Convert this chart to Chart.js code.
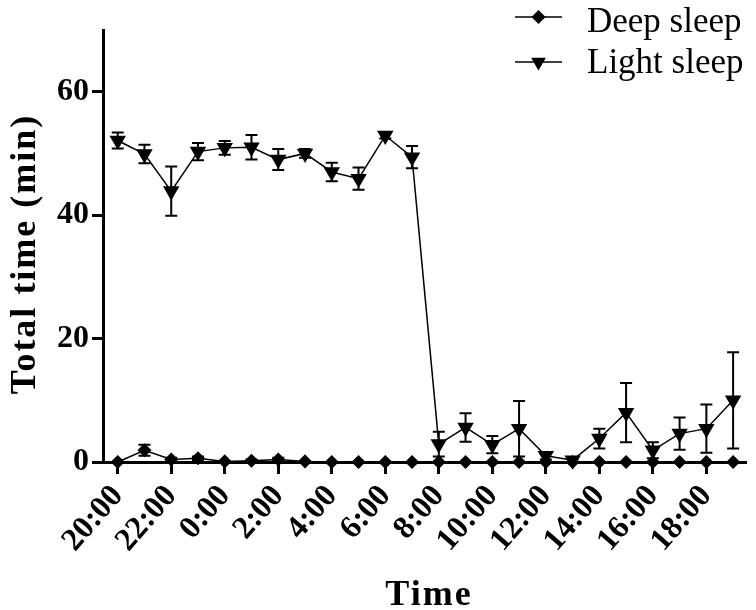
<!DOCTYPE html>
<html>
<head>
    <meta charset="UTF-8">
    <title>Sleep time</title>
    <script src="https://cdn.jsdelivr.net/npm/chart.js"></script>
    <style>
        html, body { margin: 0; padding: 0; background: #fff; }
        #wrap { width: 756px; height: 610px; }
    </style>
</head>
<body>
    <div id="wrap"><canvas id="myChart" width="756" height="610"></canvas></div>

    <script>
        // data
        const hours = ['20:00','21:00','22:00','23:00','0:00','1:00','2:00','3:00','4:00','5:00','6:00','7:00',
                       '8:00','9:00','10:00','11:00','12:00','13:00','14:00','15:00','16:00','17:00','18:00','19:00'];
        const deepSleep = [0, 1.9, 0.4, 0.6, 0.1, 0.2, 0.4, 0.1, 0, 0, 0, 0,
                           0, 0, 0, 0, 0, 0, 0, 0, 0, 0, 0, 0];
        const deepSleepErr = [0, 0.9, 0.3, 0.3, 0, 0.2, 0.3, 0, 0, 0, 0, 0,
                              0, 0, 0, 0, 0, 0, 0, 0, 0, 0, 0, 0];
        const lightSleep = [52.1, 49.9, 43.9, 50.3, 50.9, 51.0, 49.0, 50.0, 47.0, 45.9, 52.9, 49.4,
                            2.9, 5.6, 2.8, 5.4, 1.0, 0.3, 3.8, 8.0, 1.9, 4.6, 5.4, 10.0];
        const lightSleepErr = [1.3, 1.5, 4.0, 1.4, 1.1, 2.0, 1.7, 0.7, 1.5, 1.8, 0.5, 1.8,
                               2.0, 2.3, 1.4, 4.5, 0.6, 0.3, 1.6, 4.8, 1.3, 2.6, 3.9, 7.8];
        const yTicks = [0, 20, 40, 60];

        const serif = "'Liberation Serif', 'Times New Roman', serif";

        // error bars, drawn with the chart's own scales
        const errorBars = {
            id: 'errorBars',
            afterDatasetsDraw(chart) {
                const ctx = chart.ctx;
                const ys = chart.scales.y;
                chart.data.datasets.forEach((ds, di) => {
                    const meta = chart.getDatasetMeta(di);
                    ctx.save();
                    ctx.strokeStyle = '#000';
                    ctx.lineWidth = 2;
                    meta.data.forEach((pt, i) => {
                        const e = ds.errors[i];
                        if (!e) return;
                        const v = ds.data[i].y;
                        const top = ys.getPixelForValue(v + e);
                        const bot = ys.getPixelForValue(v - e);
                        ctx.beginPath();
                        ctx.moveTo(pt.x, top); ctx.lineTo(pt.x, bot);
                        ctx.moveTo(pt.x - 6, top); ctx.lineTo(pt.x + 6, top);
                        ctx.moveTo(pt.x - 6, bot); ctx.lineTo(pt.x + 6, bot);
                        ctx.stroke();
                    });
                    ctx.restore();
                });
            }
        };

        // legend (line + marker + label) and the two axis titles
        const extras = {
            id: 'extras',
            afterDraw(chart) {
                const ctx = chart.ctx;
                const rows = [
                    { text: 'Deep sleep', y: 17, base: 32, style: 'rectRot', r: 6, rot: 0 },
                    { text: 'Light sleep', y: 62, base: 73, style: 'triangle', r: 7, rot: 180 }
                ];
                ctx.save();
                rows.forEach(row => {
                    ctx.strokeStyle = '#000';
                    ctx.lineWidth = 1.5;
                    ctx.beginPath();
                    ctx.moveTo(515, row.y); ctx.lineTo(562, row.y);
                    ctx.stroke();
                    ctx.fillStyle = '#000';
                    Chart.helpers.drawPoint(ctx, { pointStyle: row.style, radius: row.r, rotation: row.rot, borderWidth: 1 }, 538.5, row.y);
                    ctx.font = '35px ' + serif;
                    ctx.textBaseline = 'alphabetic';
                    ctx.textAlign = 'left';
                    ctx.fillText(row.text, 587, row.base);
                });

                ctx.fillStyle = '#000';
                ctx.font = 'bold 36px ' + serif;
                ctx.letterSpacing = '2px';
                ctx.textAlign = 'center';
                ctx.textBaseline = 'alphabetic';
                ctx.fillText('Time', 429, 605);

                ctx.translate(35, 254);
                ctx.rotate(-Math.PI / 2);
                ctx.fillText('Total time (min)', 0, 0);
                ctx.restore();
            }
        };

        const ctx = document.getElementById('myChart').getContext('2d');
        const myChart = new Chart(ctx, {
            type: 'line',
            data: {
                datasets: [{
                    label: 'Deep sleep',
                    data: deepSleep.map((v, i) => ({ x: i, y: v })),
                    errors: deepSleepErr,
                    borderColor: '#000',
                    backgroundColor: '#000',
                    borderWidth: 1.5,
                    pointStyle: 'rectRot',
                    pointRadius: 6,
                    pointHoverRadius: 6,
                    tension: 0,
                    clip: false
                }, {
                    label: 'Light sleep',
                    data: lightSleep.map((v, i) => ({ x: i, y: v })),
                    errors: lightSleepErr,
                    borderColor: '#000',
                    backgroundColor: '#000',
                    borderWidth: 1.5,
                    pointStyle: 'triangle',
                    pointRotation: 180,
                    pointRadius: 8,
                    pointHoverRadius: 8,
                    tension: 0,
                    clip: false
                }]
            },
            options: {
                responsive: false,
                animation: false,
                layout: { padding: { top: 30, right: 4, left: 0, bottom: 0 } },
                plugins: {
                    legend: { display: false },
                    tooltip: { enabled: false }
                },
                scales: {
                    x: {
                        type: 'linear',
                        min: -0.55,
                        max: 23.5,
                        afterBuildTicks(scale) { scale.ticks = hours.map((h, i) => ({ value: i })); },
                        afterFit(scale) { scale.height = 148; },
                        border: { color: '#000', width: 3 },
                        grid: { drawOnChartArea: false, drawTicks: true, tickLength: 12, tickWidth: 3, tickColor: '#000' },
                        ticks: {
                            autoSkip: false,
                            minRotation: 49,
                            maxRotation: 49,
                            padding: 4,
                            color: '#000',
                            font: { family: serif, size: 32, weight: 'bold' },
                            callback: v => (v % 2 === 0) ? hours[v] : null
                        }
                    },
                    y: {
                        min: 0,
                        max: 70,
                        afterFit(scale) { scale.width = 103; },
                        border: { color: '#000', width: 3 },
                        grid: { drawOnChartArea: false, drawTicks: true, tickLength: 11, tickWidth: 3, tickColor: '#000' },
                        ticks: {
                            stepSize: 10,
                            autoSkip: false,
                            padding: 3,
                            color: '#000',
                            font: { family: serif, size: 32, weight: 'bold' },
                            callback: v => yTicks.includes(v) ? v : null
                        }
                    }
                }
            },
            plugins: [errorBars, extras]
        });
    </script>
</body>
</html>
